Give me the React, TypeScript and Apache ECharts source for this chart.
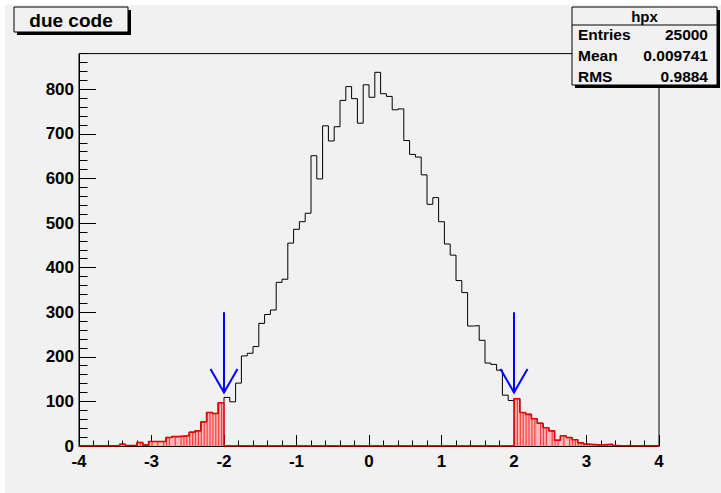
import React, { useEffect, useRef } from "react";
import * as echarts from "echarts";

const xMin = -4;
const xMax = 4;
const nBins = 100;
const cutLow = -2;
const cutHigh = 2;
const counts = [
  0, 0, 0, 0, 0, 0, 0, 4, 1, 1,
  8, 2, 10, 10, 10, 19, 21, 22, 23, 31,
  34, 54, 75, 73, 97, 109, 99, 141, 202, 208,
  223, 275, 295, 305, 367, 374, 455, 486, 503, 522,
  651, 599, 718, 684, 716, 775, 806, 779, 724, 810,
  782, 838, 790, 784, 754, 756, 685, 654, 648, 608,
  542, 557, 503, 453, 428, 371, 344, 269, 270, 237,
  186, 183, 170, 114, 102, 106, 75, 71, 61, 51,
  41, 34, 13, 23, 19, 14, 7, 4, 3, 2,
  3, 4, 1, 0, 1, 0, 0, 0, 0, 0,
];
const xTicks = [-4, -3, -2, -1, 0, 1, 2, 3, 4];
const yMax = 880;
const arrowX = [-2, 2];
const arrowTop = 300;
const arrowTip = 120;
const titleText = "due code";
const statsName = "hpx";
const statsLabels = ["Entries", "Mean", "RMS"];
const statsValues = ["25000", "0.009741", "0.9884"];

export default function App() {
  const ref = useRef<HTMLDivElement>(null);
  useEffect(() => {
    if (!ref.current) return;
    const chart = echarts.init(ref.current, undefined, { renderer: "svg" });
    const bw = (xMax - xMin) / nBins;
    const edges = counts.map((_, i) => xMin + i * bw);
    const blackData: number[][] = [[xMin, 0]];
    counts.forEach((c, i) => blackData.push([edges[i], c]));
    blackData.push([xMax, counts[nBins - 1]]);
    blackData.push([xMax, 0]);
    const redCounts = counts.map((c, i) => {
      const center = edges[i] + bw / 2;
      return center < cutLow || center > cutHigh ? c : 0;
    });
    const redData: number[][] = [[xMin, 0]];
    redCounts.forEach((c, i) => redData.push([edges[i], c]));
    redData.push([xMax, redCounts[nBins - 1]]);
    redData.push([xMax, 0]);
    const hatchData = redCounts
      .map((c, i) => [edges[i], edges[i] + bw, c])
      .filter((d) => d[2] > 0);

    const font = "'Liberation Sans', Arial, Helvetica, sans-serif";
    const bg = "#f1f1f1";

    chart.setOption({
      animation: false,
      backgroundColor: bg,
      grid: {
        left: 79,
        top: 53.6,
        width: 580,
        height: 392.4,
        show: true,
        borderColor: "#000",
        borderWidth: 1,
        backgroundColor: "transparent",
        containLabel: false,
      },
      xAxis: {
        type: "value",
        min: xMin,
        max: xMax,
        interval: 1,
        axisLine: { show: true, onZero: false, lineStyle: { color: "#000", width: 1 } },
        axisTick: { show: true, inside: true, length: 11, lineStyle: { color: "#000" } },
        minorTick: { show: true, splitNumber: 5, length: 5.5, lineStyle: { color: "#000" } },
        splitLine: { show: false },
        axisLabel: {
          show: true,
          margin: 7,
          color: "#000",
          fontFamily: font,
          fontWeight: "bold",
          fontSize: 17,
          formatter: (v: number) => (xTicks.indexOf(v) >= 0 ? String(v) : ""),
        },
      },
      yAxis: [
        {
          type: "value",
          min: 0,
          max: yMax,
          interval: 100,
          position: "left",
          axisLine: { show: true, onZero: false, lineStyle: { color: "#000", width: 1 } },
          axisTick: { show: true, inside: true, length: 17, lineStyle: { color: "#000" } },
          splitLine: { show: false },
          axisLabel: {
            show: true,
            margin: 5,
            color: "#000",
            fontFamily: font,
            fontWeight: "bold",
            fontSize: 17,
            showMaxLabel: false,
            formatter: (v: number) => (v % 100 === 0 ? String(v) : ""),
          },
        },
        {
          type: "value",
          min: 0,
          max: yMax,
          interval: 20,
          position: "left",
          offset: 0,
          axisLine: { show: false, onZero: false },
          axisTick: { show: true, inside: true, length: 8.5, lineStyle: { color: "#000" } },
          splitLine: { show: false },
          axisLabel: { show: false },
        },
      ],
      series: [
        {
          type: "line",
          step: "end",
          data: blackData,
          showSymbol: false,
          symbol: "none",
          lineStyle: { color: "#000", width: 1 },
          z: 2,
        },
        {
          type: "custom",
          data: hatchData,
          z: 3,
          renderItem: (params: any, api: any) => {
            const l = api.value(0);
            const r = api.value(1);
            const v = api.value(2);
            const p0 = api.coord([l, 0]);
            const p1 = api.coord([r, v]);
            const origin = api.coord([xMin, 0])[0];
            const children: any[] = [
              {
                type: "rect",
                shape: { x: p0[0], y: p1[1], width: p1[0] - p0[0], height: p0[1] - p1[1] },
                style: { fill: "#ffb8b8" },
              },
            ];
            const step = 2.9;
            let k = Math.ceil((p0[0] - origin) / step);
            for (; origin + k * step < p1[0]; k++) {
              const x = origin + k * step + 0.5;
              if (x <= p0[0] || x >= p1[0]) continue;
              children.push({
                type: "line",
                shape: { x1: x, y1: p0[1], x2: x, y2: p1[1] },
                style: { stroke: "#ff3c3c", lineWidth: 1.2 },
              });
            }
            return { type: "group", children };
          },
        },
        {
          type: "line",
          step: "end",
          data: redData,
          showSymbol: false,
          symbol: "none",
          lineStyle: { color: "#e00000", width: 1.6 },
          z: 4,
        },
        {
          type: "custom",
          data: arrowX.map((x) => [x, arrowTop, arrowTip]),
          z: 5,
          renderItem: (params: any, api: any) => {
            const top = api.coord([api.value(0), api.value(1)]);
            const tip = api.coord([api.value(0), api.value(2)]);
            const st = { stroke: "#0000ff", lineWidth: 2, fill: null };
            return {
              type: "group",
              children: [
                { type: "line", shape: { x1: top[0], y1: top[1], x2: tip[0], y2: tip[1] }, style: st },
                {
                  type: "polyline",
                  shape: {
                    points: [
                      [tip[0] - 13.5, tip[1] - 23.5],
                      [tip[0], tip[1]],
                      [tip[0] + 13.5, tip[1] - 23.5],
                    ],
                  },
                  style: st,
                },
              ],
            };
          },
        },
      ],
      graphic: [
        { type: "rect", z: 90, shape: { x: 0, y: 0, width: 721, height: 5 }, style: { fill: "#ffffff" } },
        { type: "rect", z: 90, shape: { x: 0, y: 0, width: 5, height: 493 }, style: { fill: "#ffffff" } },
        { type: "rect", z: 100, shape: { x: 17, y: 10, width: 114, height: 25 }, style: { fill: "#000" } },
        { type: "rect", z: 101, shape: { x: 14, y: 7, width: 114, height: 25 }, style: { fill: bg, stroke: "#000", lineWidth: 1 } },
        {
          type: "text",
          z: 102,
          x: 71,
          y: 20,
          style: { text: titleText, fill: "#000", font: `bold 19px ${font}`, textAlign: "center", textVerticalAlign: "middle" },
        },
        { type: "rect", z: 100, shape: { x: 575, y: 10, width: 145, height: 78 }, style: { fill: "#000" } },
        { type: "rect", z: 101, shape: { x: 572, y: 7, width: 145, height: 78 }, style: { fill: bg, stroke: "#000", lineWidth: 1 } },
        { type: "line", z: 102, shape: { x1: 572, y1: 25, x2: 717, y2: 25 }, style: { stroke: "#000", lineWidth: 1 } },
        {
          type: "text",
          z: 102,
          x: 644.5,
          y: 16.5,
          style: { text: statsName, fill: "#000", font: `bold 15px ${font}`, textAlign: "center", textVerticalAlign: "middle" },
        },
        ...statsLabels.map((s, i) => ({
          type: "text",
          z: 102,
          x: 578,
          y: 34.5 + i * 21,
          style: { text: s, fill: "#000", font: `bold 15.5px ${font}`, textAlign: "left", textVerticalAlign: "middle" },
        })),
        ...statsValues.map((s, i) => ({
          type: "text",
          z: 102,
          x: 708,
          y: 34.5 + i * 21,
          style: { text: s, fill: "#000", font: `bold 15.5px ${font}`, textAlign: "right", textVerticalAlign: "middle" },
        })),
      ],
    });
    return () => chart.dispose();
  }, []);
  return (
    <div style={{ position: "fixed", left: 0, top: 0, width: 721, height: 493 }}>
      <div ref={ref} style={{ width: 721, height: 493 }} />
    </div>
  );
}
